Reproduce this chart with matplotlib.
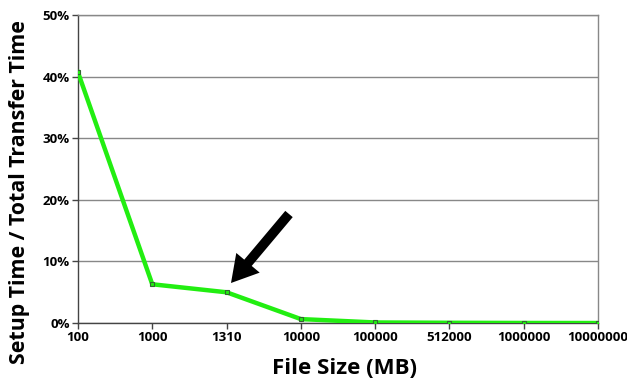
import matplotlib
matplotlib.use("Agg")
import matplotlib.pyplot as plt
import numpy as np

plt.rcParams['font.family'] = ['Open Sans', 'DejaVu Sans']

categories = ["100", "1000", "1310", "10000", "100000", "512000", "1000000", "10000000"]
ratio_pct = [40.7, 6.3, 5.0, 0.65, 0.1, 0.05, 0.02, 0.01]
yticks = [0, 10, 20, 30, 40, 50]
ytick_labels = ["0%", "10%", "20%", "30%", "40%", "50%"]

fig = plt.figure(figsize=(6.27, 3.81), dpi=100)
ax = fig.add_axes([0.1244, 0.152, 0.8293, 0.8086])

x = np.arange(len(categories))
ax.plot(x, ratio_pct, color='#22ee11', lw=3.2, marker='s', markersize=3.2,
        markerfacecolor='#22ee11', markeredgecolor='#336633', markeredgewidth=0.8,
        solid_joinstyle='miter', zorder=3)

ax.set_xlim(0, len(categories) - 1)
ax.set_ylim(0, 50)
ax.set_xticks(x)
ax.set_xticklabels(categories, fontsize=9.5, fontweight='bold')
ax.set_yticks(yticks)
ax.set_yticklabels(ytick_labels, fontsize=9.5, fontweight='bold')
ax.yaxis.grid(True, color='#888888', lw=1.0)
ax.set_axisbelow(True)
for s in ['left', 'bottom']:
    ax.spines[s].set_color('#444444')
    ax.spines[s].set_linewidth(1.0)
for s in ['top', 'right']:
    ax.spines[s].set_color('#888888')
    ax.spines[s].set_linewidth(1.0)
ax.tick_params(axis='both', length=4, width=1, color='#444444', pad=2)

fig.text(0.549, 0.034, "File Size (MB)", fontsize=16, fontweight='bold',
         ha='center', va='center')
fig.text(0.031, 0.496, "Setup Time / Total Transfer Time", fontsize=15.4,
         fontweight='bold', rotation=90, ha='center', va='center')

ax.annotate("", xy=(231, 98), xycoords='figure pixels',
            xytext=(289, 167), textcoords='figure pixels',
            arrowprops=dict(arrowstyle='simple,head_length=1.9,head_width=2.2,tail_width=0.7',
                            mutation_scale=10, facecolor='black', edgecolor='none',
                            shrinkA=0, shrinkB=0))

fig.savefig("out.png", dpi=100)
